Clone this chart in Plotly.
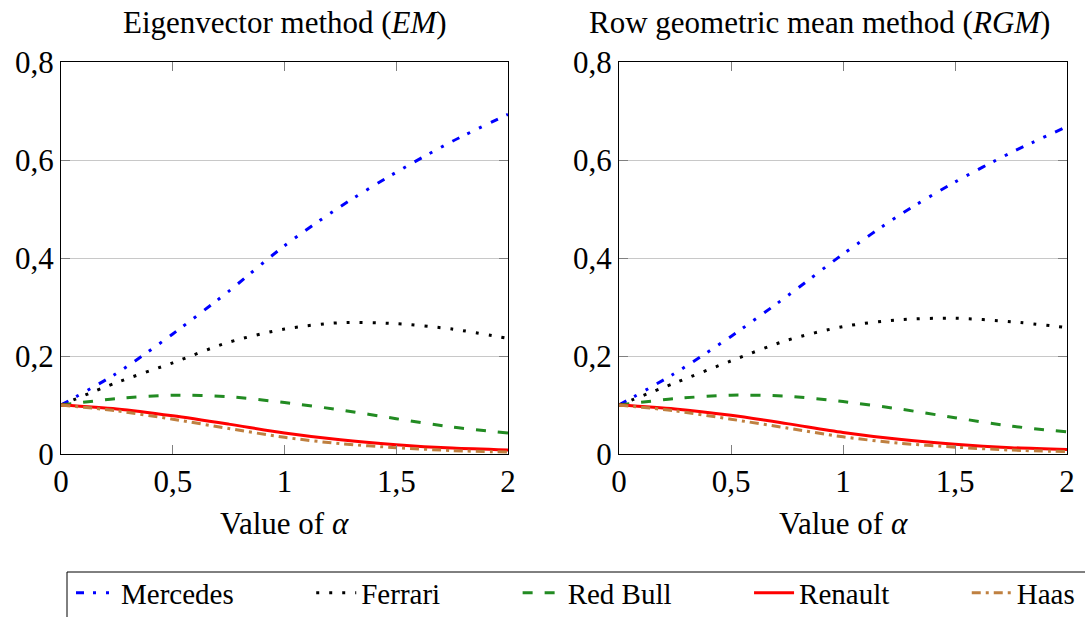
import plotly.graph_objects as go

alpha = [0, 0.25, 0.5, 0.75, 1, 1.25, 1.5, 1.75, 2]
teams = ["Mercedes", "Ferrari", "Red Bull", "Renault", "Haas"]

em_mercedes = [0.100, 0.165, 0.245, 0.332, 0.425, 0.505, 0.575, 0.638, 0.693]
em_ferrari = [0.100, 0.146, 0.186, 0.228, 0.255, 0.268, 0.266, 0.255, 0.236]
em_redbull = [0.100, 0.113, 0.120, 0.117, 0.105, 0.090, 0.072, 0.055, 0.043]
em_renault = [0.100, 0.092, 0.078, 0.061, 0.043, 0.029, 0.019, 0.012, 0.008]
em_haas = [0.100, 0.088, 0.071, 0.052, 0.034, 0.021, 0.013, 0.007, 0.004]

rgm_mercedes = [0.100, 0.165, 0.240, 0.322, 0.408, 0.487, 0.555, 0.615, 0.668]
rgm_ferrari = [0.100, 0.145, 0.190, 0.232, 0.260, 0.274, 0.277, 0.270, 0.258]
rgm_redbull = [0.100, 0.113, 0.120, 0.118, 0.107, 0.092, 0.074, 0.057, 0.045]
rgm_renault = [0.100, 0.092, 0.079, 0.062, 0.044, 0.030, 0.020, 0.013, 0.009]
rgm_haas = [0.100, 0.088, 0.071, 0.053, 0.035, 0.022, 0.014, 0.008, 0.005]

titles = ["Eigenvector method (<i>EM</i>)", "Row geometric mean method (<i>RGM</i>)"]
x_title = "Value of <i>α</i>"
x_ticks = [0, 0.5, 1, 1.5, 2]
y_ticks = [0, 0.2, 0.4, 0.6, 0.8]

colors = ["#0000FF", "#000000", "#228B22", "#FF0000", "#BF8040"]
dashes = ["8px,9px,3px,10px,3px,10px", "3px,10px", "10px,12px", "solid", "9px,5px,3px,5px"]

FONT = "Liberation Serif"
W, H = 1085, 617
L, R, T, B = 61, 18, 62, 163
PW, PH = W - L - R, H - T - B

def px_x(p):
    return (p - L) / PW

def px_y(p):
    return (H - B - p) / PH

fig = go.Figure()
series = [
    [em_mercedes, em_ferrari, em_redbull, em_renault, em_haas],
    [rgm_mercedes, rgm_ferrari, rgm_redbull, rgm_renault, rgm_haas],
]
pad = "\u00a0" * 10
for k, group in enumerate(series):
    for i, vals in enumerate(group):
        label = teams[i] + (pad if i < len(teams) - 1 else "")
        fig.add_trace(go.Scatter(
            x=alpha, y=vals, mode="lines", name=label,
            line=dict(color=colors[i], dash=dashes[i], width=3, shape="spline", smoothing=0.8),
            xaxis="x" if k == 0 else "x2", yaxis="y" if k == 0 else "y2",
            showlegend=(k == 0),
        ))

axis_common = dict(
    showline=True, linecolor="#000000", linewidth=1, mirror="ticks",
    ticks="inside", ticklen=9, tickcolor="#808080", tickwidth=1,
    tickfont=dict(family=FONT, size=31, color="#000000"),
    zeroline=False,
)
dom1 = [0, px_x(508)]
dom2 = [px_x(619), 1]
fig.update_layout(
    xaxis=dict(domain=dom1, range=[0, 2], tickvals=x_ticks, showgrid=False, anchor="y", **axis_common),
    yaxis=dict(domain=[0, 1], range=[0, 0.8], tickvals=y_ticks, showgrid=True, gridcolor="#C8C8C8",
               gridwidth=1, anchor="x", **axis_common),
    xaxis2=dict(domain=dom2, range=[0, 2], tickvals=x_ticks, showgrid=False, anchor="y2", **axis_common),
    yaxis2=dict(domain=[0, 1], range=[0, 0.8], tickvals=y_ticks, showgrid=True, gridcolor="#C8C8C8",
                gridwidth=1, anchor="x2", **axis_common),
)

annos = []
centers = [284.5, 819]
for k in range(2):
    annos.append(dict(text=titles[k], x=px_x(centers[k]), y=px_y(22), xref="paper", yref="paper",
                      xanchor="center", yanchor="middle", showarrow=False,
                      font=dict(family=FONT, size=31, color="#000000")))
for c in [284.5, 843]:
    annos.append(dict(text=x_title, x=px_x(c), y=px_y(523), xref="paper", yref="paper",
                      xanchor="center", yanchor="middle", showarrow=False,
                      font=dict(family=FONT, size=31, color="#000000")))

fig.update_layout(
    width=W, height=H,
    margin=dict(l=L, r=R, t=T, b=B, autoexpand=False),
    paper_bgcolor="white", plot_bgcolor="white",
    separators=",.",
    annotations=annos,
    shapes=[dict(type="rect", xref="paper", yref="paper",
                 x0=px_x(67), x1=px_x(1110), y0=px_y(572), y1=px_y(650),
                 line=dict(color="#000000", width=1), fillcolor="rgba(0,0,0,0)", layer="above")],
    legend=dict(orientation="h", x=px_x(71), xanchor="left", y=px_y(593), yanchor="middle",
                font=dict(family=FONT, size=29, color="#000000"),
                bgcolor="rgba(0,0,0,0)", borderwidth=0, itemwidth=40, tracegroupgap=0),
)

fig.write_html("out.html")
